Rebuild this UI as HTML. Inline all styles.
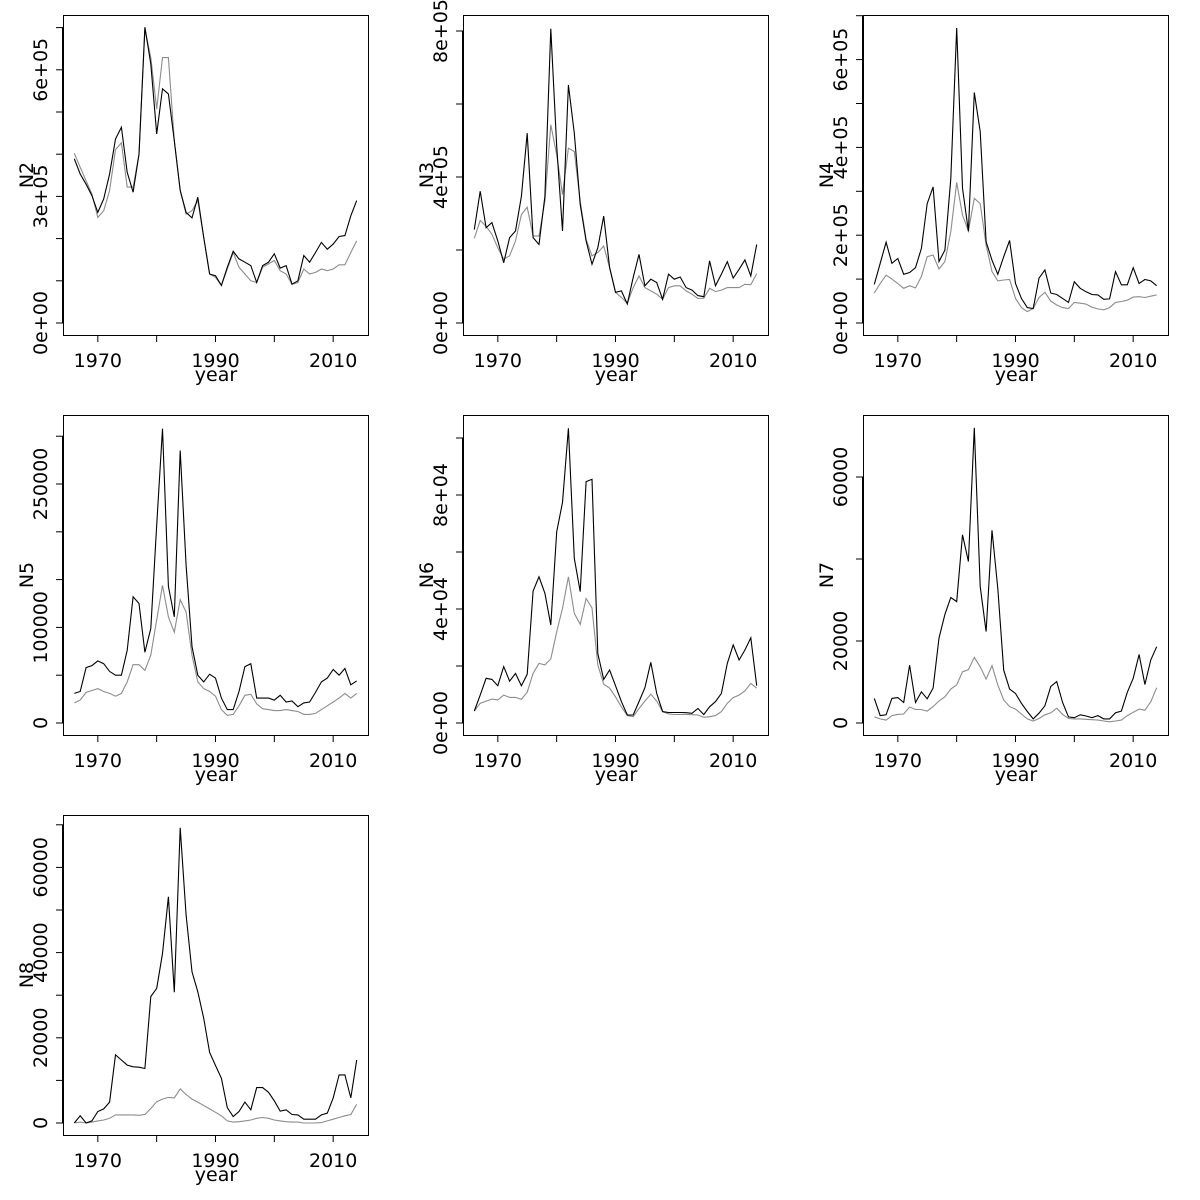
<!DOCTYPE html>
<html><head><meta charset="utf-8"><style>
html,body{margin:0;padding:0;background:#fff;}
svg{display:block;font-family:"DejaVu Sans","Liberation Sans",sans-serif;}
</style></head><body>
<svg id="chart" width="1200" height="1200" viewBox="0 0 1200 1200"></svg>
<script>
const years = [];
for (let y = 1966; y <= 2014; y++) years.push(y);

const n2Black = [389,353,329,302,262,294,353,436,464,357,310,400,701,614,448,555,543,432,314,262,249,298,203,116,112,89,132,170,152,144,136,96,136,144,164,130,136,92,100,160,144,167,191,175,187,205,207,254,290];
const n2Gray  = [402,369,337,306,250,266,314,411,427,322,322,400,697,629,507,629,629,432,314,258,266,290,203,116,108,89,128,167,132,116,100,96,132,140,148,124,116,92,96,128,116,120,128,124,128,138,138,167,195];
const n3Black = [256,361,261,275,225,165,234,252,347,520,234,215,347,806,484,252,652,520,325,225,161,206,293,152,84,88,52,125,188,102,120,111,65,134,120,126,97,90,75,72,170,102,134,168,123,147,173,129,215];
const n3Gray  = [232,281,265,243,206,175,184,225,297,317,238,238,334,543,461,352,479,470,334,229,184,193,211,152,84,70,54,97,129,97,88,79,65,97,102,102,88,79,67,68,95,86,90,97,97,97,106,105,135];
const n4Black = [88,136,184,136,147,111,115,126,170,272,310,140,166,329,672,307,209,525,436,185,143,111,151,188,90,56,35,33,102,121,68,65,56,47,94,79,71,65,64,54,55,117,87,87,126,90,99,96,85];
const n4Gray  = [68,90,109,100,90,79,85,80,106,151,155,123,140,208,320,246,209,284,272,178,117,96,98,99,56,35,26,33,58,70,50,41,35,33,47,45,43,36,32,30,35,47,49,52,59,60,58,61,64];
const n5Black = [31,33,58,60,65,62,54,50,50,76,132,125,74,99,207,308,143,111,285,165,80,50,43,51,47,26,14,14,33,59,62,26,26,26,24,29,22,23,17,21,22,32,43,47,56,50,57,40,44];
const n5Gray  = [21,24,32,34,36,33,31,28,31,43,61,61,55,71,108,144,111,95,129,116,71,43,36,33,28,14,8,9,18,29,30,20,15,14,13,13,14,13,12,9,9,10,14,18,22,26,31,26,31];
const n6Black = [4.2,9.8,15.7,15.3,13.1,19.8,14.7,17.4,13.1,17.1,46.3,51.3,45.5,34.4,67.1,77.4,103.4,57.8,46.1,84.7,85.5,24.4,15.3,18.6,13.1,7.5,2.8,2.8,7.5,12.4,21.3,10.4,4.0,3.7,3.7,3.7,3.6,3.4,5.1,3.0,5.7,7.5,10.4,20.9,27.4,22.1,25.6,29.9,13.1];
const n6Gray  = [4.2,6.9,7.7,8.4,8.1,9.8,9.0,9.0,8.3,10.8,17.4,20.9,20.4,22.5,32.0,40.2,51.3,38.5,34.6,43.7,40.4,20.4,13.6,12.2,9.2,5.7,2.6,2.2,5.1,7.7,10.1,7.7,4.0,3.2,3.0,3.0,3.0,2.9,2.8,2.0,2.2,2.6,4.0,6.9,8.9,9.8,11.3,13.9,12.2];
const n7Black = [6.0,1.8,2.0,6.0,6.2,5.0,14.1,5.0,7.6,5.9,8.5,20.7,26.5,30.6,29.6,45.9,39.4,72.0,33.3,22.3,47.0,32.8,12.9,8.3,7.2,4.8,2.8,1.0,2.4,4.2,8.9,10.1,5.0,1.5,1.3,2.0,1.7,1.3,1.8,1.0,1.0,2.5,2.9,7.5,10.9,16.7,9.4,15.4,18.6];
const n7Gray  = [1.5,1.0,0.7,1.8,2.1,2.2,3.9,3.3,3.3,2.9,4.0,5.4,6.4,8.3,9.3,12.5,13.0,16.0,13.7,10.7,14.0,9.3,5.6,4.0,3.4,2.2,1.0,0.5,1.1,2.0,2.5,3.6,2.1,1.1,1.0,1.0,0.9,0.8,0.7,0.5,0.3,0.5,0.7,1.8,2.6,3.4,3.1,5.2,8.6];
const n8Black = [0,1.7,0,0.5,2.7,3.3,4.9,16.0,14.8,13.6,13.2,13.1,12.8,29.7,31.6,39.8,53.1,30.7,69.3,48.8,35.5,30.8,24.6,16.6,13.5,10.5,3.6,1.5,2.7,4.9,3.1,8.3,8.3,7.2,5.2,2.8,3.1,2.0,1.9,0.9,0.9,0.9,1.9,2.3,5.9,11.3,11.3,5.9,14.8];
const n8Gray  = [0,0.2,0,0.2,0.5,0.7,1.1,1.9,1.9,1.9,1.9,1.8,2.0,3.4,5.0,5.6,6.0,5.9,8.0,6.7,5.6,4.9,4.1,3.3,2.5,1.7,0.5,0.2,0.3,0.5,0.7,1.1,1.3,1.1,0.7,0.5,0.3,0.2,0.2,0,0,0,0.1,0.5,0.9,1.3,1.7,2.0,4.4];

const xTickYears = [1970,1980,1990,2000,2010];
const xTickLabels = ["1970","","1990","","2010"];

const n2Ticks = [0,100,200,300,400,500,600,700];
const n2TickLabels = ["0e+00","","","3e+05","","","6e+05",""];
const n3Ticks = [0,200,400,600,800];
const n3TickLabels = ["0e+00","","4e+05","","8e+05"];
const n4Ticks = [0,100,200,300,400,500,600,700];
const n4TickLabels = ["0e+00","","2e+05","","4e+05","","6e+05",""];
const n5Ticks = [0,50,100,150,200,250,300];
const n5TickLabels = ["0","","100000","","","250000",""];
const n6Ticks = [0,20,40,60,80,100];
const n6TickLabels = ["0e+00","","4e+04","","8e+04",""];
const n7Ticks = [0,20,40,60];
const n7TickLabels = ["0","20000","","60000"];
const n8Ticks = [0,10,20,30,40,50,60,70];
const n8TickLabels = ["0","","20000","","40000","","60000",""];

const NS = "http://www.w3.org/2000/svg";
const svg = document.getElementById('chart');
function mk(tag, attrs, parent) {
  const e = document.createElementNS(NS, tag);
  for (const k in attrs) e.setAttribute(k, attrs[k]);
  parent.appendChild(e);
  return e;
}

const panels = [
  {name:"N2", left:63, top:15, ppu:0.422, ticks:n2Ticks, labels:n2TickLabels, black:n2Black, gray:n2Gray},
  {name:"N3", left:463, top:15, ppu:0.365, ticks:n3Ticks, labels:n3TickLabels, black:n3Black, gray:n3Gray},
  {name:"N4", left:863, top:15, ppu:0.439, ticks:n4Ticks, labels:n4TickLabels, black:n4Black, gray:n4Gray},
  {name:"N5", left:63, top:415, ppu:0.956, ticks:n5Ticks, labels:n5TickLabels, black:n5Black, gray:n5Gray},
  {name:"N6", left:463, top:415, ppu:2.85, ticks:n6Ticks, labels:n6TickLabels, black:n6Black, gray:n6Gray},
  {name:"N7", left:863, top:415, ppu:4.1, ticks:n7Ticks, labels:n7TickLabels, black:n7Black, gray:n7Gray},
  {name:"N8", left:63, top:815, ppu:4.26, ticks:n8Ticks, labels:n8TickLabels, black:n8Black, gray:n8Gray}
];

const W = 305, H = 320;
panels.forEach(p => {
  const g = mk('g', {}, svg);
  
  
  const xs = yr => p.left + (yr - 1964.08) * W / 51.84;
  const ys = v => p.top + 308 - v * p.ppu;
  const bottom = p.top + H;

  const box = mk('rect', {x:p.left+0.5, y:p.top+0.5, width:W, height:H, fill:'none', stroke:'#000', 'stroke-width':1}, g);
  
  

  // x axis
  const xa = mk('g', {}, g);
  
  
  mk('line', {x1:xs(xTickYears[0]), x2:xs(xTickYears[xTickYears.length-1]), y1:bottom+0.5, y2:bottom+0.5, stroke:'#000'}, xa);
  xTickYears.forEach((yr, i) => {
    mk('line', {x1:xs(yr), x2:xs(yr), y1:bottom, y2:bottom+7, stroke:'#000'}, xa);
    if (xTickLabels[i]) {
      const t = mk('text', {x:xs(yr), y:bottom+32, 'text-anchor':'middle', 'font-size':19}, xa);
      
      
      t.textContent = xTickLabels[i];
    }
  });
  const xt = mk('text', {x:p.left + W/2 + 0.5, y:bottom+46, 'text-anchor':'middle', 'font-size':19}, g);
  
  
  xt.textContent = 'year';

  // y axis
  const ya = mk('g', {}, g);
  
  
  mk('line', {x1:p.left-0.5, x2:p.left-0.5, y1:ys(p.ticks[0]), y2:ys(p.ticks[p.ticks.length-1]), stroke:'#000'}, ya);
  p.ticks.forEach((v, i) => {
    mk('line', {x1:p.left-7, x2:p.left, y1:ys(v), y2:ys(v), stroke:'#000'}, ya);
    if (p.labels[i]) {
      const t = mk('text', {x:0, y:0, 'text-anchor':'middle', 'font-size':19,
        transform:'translate(' + (p.left-16) + ',' + ys(v) + ') rotate(-90)'}, ya);
      
      
      t.textContent = p.labels[i];
    }
  });
  const yt = mk('text', {x:0, y:0, 'text-anchor':'middle', 'font-size':19,
    transform:'translate(' + (p.left-30) + ',' + (p.top + H/2) + ') rotate(-90)'}, g);
  
  
  yt.textContent = p.name;

  // series
  const ptsG = years.map((yr, i) => xs(yr).toFixed(1) + ',' + ys(p.gray[i]).toFixed(1)).join(' ');
  const lg = mk('polyline', {points:ptsG, fill:'none', stroke:'#8c8c8c', 'stroke-width':1.1}, g);
  
  
  const ptsB = years.map((yr, i) => xs(yr).toFixed(1) + ',' + ys(p.black[i]).toFixed(1)).join(' ');
  const lb = mk('polyline', {points:ptsB, fill:'none', stroke:'#000', 'stroke-width':1.1}, g);
  
  
});
</script>
</body></html>
